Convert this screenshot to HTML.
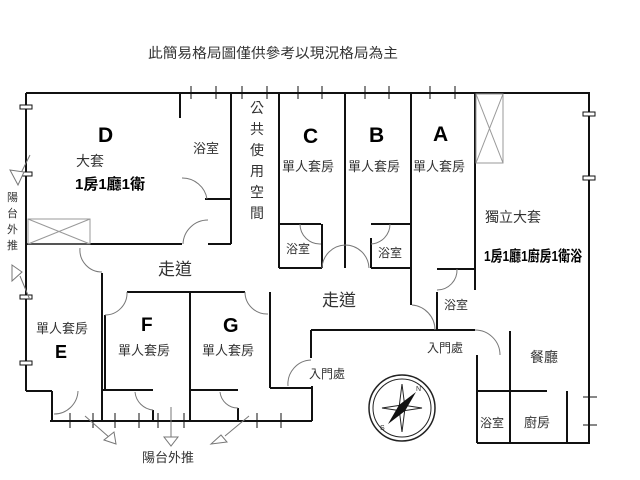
<!DOCTYPE html>
<html><head><meta charset="utf-8"><style>
html,body{margin:0;padding:0;background:#fff}
svg{display:block}
text{font-family:"Liberation Sans","Noto Sans CJK TC",sans-serif;fill:#333}
.b{font-weight:bold;fill:#000}
</style></head><body>
<svg width="640" height="480" viewBox="0 0 640 480" xmlns="http://www.w3.org/2000/svg">
<text x="148" y="58" font-size="14" textLength="250" lengthAdjust="spacingAndGlyphs">此簡易格局圖僅供參考以現況格局為主</text>
<g stroke="#111" stroke-width="2" fill="none">
<line x1="26" y1="93" x2="590" y2="93"/>
<line x1="26" y1="93" x2="26" y2="391"/>
<line x1="26" y1="391" x2="52" y2="391"/>
<line x1="52" y1="391" x2="52" y2="421"/>
<line x1="50" y1="421" x2="312" y2="421"/>
<line x1="180" y1="93" x2="180" y2="118"/>
<line x1="231" y1="93" x2="231" y2="244"/>
<line x1="205" y1="199" x2="231" y2="199"/>
<line x1="26" y1="244" x2="182" y2="244"/>
<line x1="208" y1="244" x2="231" y2="244"/>
<line x1="279" y1="93" x2="279" y2="268"/>
<line x1="279" y1="224" x2="321" y2="224"/>
<line x1="322" y1="224" x2="322" y2="268"/>
<line x1="279" y1="268" x2="322" y2="268"/>
<line x1="345" y1="93" x2="345" y2="268"/>
<line x1="371" y1="224" x2="411" y2="224"/>
<line x1="371" y1="238" x2="371" y2="268"/>
<line x1="371" y1="268" x2="411" y2="268"/>
<line x1="411" y1="93" x2="411" y2="305"/>
<line x1="437" y1="269" x2="475" y2="269"/>
<line x1="437" y1="292" x2="437" y2="330"/>
<line x1="311" y1="330" x2="475" y2="330"/>
<line x1="475" y1="93" x2="475" y2="290"/>
<line x1="477" y1="355" x2="477" y2="443"/>
<line x1="477" y1="443" x2="590" y2="443"/>
<line x1="589" y1="93" x2="589" y2="443"/>
<line x1="510" y1="331" x2="510" y2="391"/>
<line x1="477" y1="391" x2="547" y2="391"/>
<line x1="567" y1="391" x2="567" y2="443"/>
<line x1="510" y1="391" x2="510" y2="443"/>
<line x1="311" y1="330" x2="311" y2="358"/>
<line x1="312" y1="386" x2="312" y2="421"/>
<line x1="270" y1="388" x2="312" y2="388"/>
<line x1="102" y1="273" x2="102" y2="421"/>
<line x1="127" y1="292" x2="245" y2="292"/>
<line x1="105" y1="315" x2="105" y2="390"/>
<line x1="190" y1="292" x2="190" y2="421"/>
<line x1="270" y1="292" x2="270" y2="388"/>
<line x1="102" y1="390" x2="153" y2="390"/>
<line x1="153" y1="410" x2="153" y2="421"/>
<line x1="190" y1="390" x2="238" y2="390"/>
<line x1="238" y1="408" x2="238" y2="421"/>
</g>
<g stroke="#777" stroke-width="1" fill="none">
<path d="M182 178 A25 25 0 0 1 207 199"/>
<path d="M183 244 A25 25 0 0 1 208 220"/>
<path d="M80 248 A22 22 0 0 0 102 272"/>
<path d="M105 315 A22 22 0 0 0 127 292"/>
<path d="M245 292 A22 22 0 0 0 268 314"/>
<path d="M322 268 A24 24 0 0 1 345 245"/>
<path d="M345 245 A24 24 0 0 1 369 268"/>
<path d="M300 224 A20 20 0 0 0 321 244"/>
<path d="M371 244 A20 20 0 0 0 390 224"/>
<path d="M457 269 A20 20 0 0 1 437 290"/>
<path d="M412 305 A25 25 0 0 1 435 330"/>
<path d="M475 330 A25 25 0 0 1 500 355"/>
<path d="M288 386 A24 24 0 0 1 311 360"/>
<path d="M54 414 A24 24 0 0 0 78 391"/>
<path d="M135 392 A20 20 0 0 0 153 410"/>
<path d="M220 392 A18 18 0 0 0 238 408"/>
</g>
<g stroke="#999" stroke-width="1" fill="none">
<rect x="28" y="219" width="62" height="25"/>
<line x1="28" y1="219" x2="90" y2="244"/><line x1="90" y1="219" x2="28" y2="244"/>
<rect x="476" y="94" width="27" height="69"/>
<line x1="476" y1="94" x2="503" y2="163"/><line x1="503" y1="94" x2="476" y2="163"/>
</g>
<g stroke="#111" stroke-width="1">
<line x1="191" y1="86" x2="191" y2="99"/><line x1="216" y1="86" x2="216" y2="99"/>
<line x1="242" y1="86" x2="242" y2="99"/><line x1="267" y1="86" x2="267" y2="99"/>
<line x1="298" y1="86" x2="298" y2="99"/><line x1="322" y1="86" x2="322" y2="99"/>
<line x1="365" y1="86" x2="365" y2="99"/><line x1="389" y1="86" x2="389" y2="99"/>
<line x1="430" y1="86" x2="430" y2="99"/><line x1="455" y1="86" x2="455" y2="99"/>
<line x1="70" y1="413" x2="70" y2="428"/><line x1="93" y1="413" x2="93" y2="428"/>
<line x1="115" y1="413" x2="115" y2="428"/><line x1="139" y1="413" x2="139" y2="428"/>
<line x1="158" y1="413" x2="158" y2="428"/><line x1="184" y1="413" x2="184" y2="428"/>
<line x1="257" y1="413" x2="257" y2="428"/><line x1="281" y1="413" x2="281" y2="428"/>
<line x1="583" y1="397" x2="597" y2="397"/><line x1="583" y1="425" x2="597" y2="425"/>
</g>
<g stroke="#111" stroke-width="1" fill="#fff">
<rect x="20" y="105" width="12" height="4"/><rect x="20" y="172" width="12" height="4"/>
<rect x="20" y="295" width="12" height="4"/><rect x="20" y="361" width="12" height="4"/>
<rect x="583" y="112" width="12" height="4"/><rect x="583" y="176" width="12" height="4"/>
</g>
<g stroke="#777" stroke-width="1" fill="#fff">
<line x1="30" y1="155" x2="20" y2="175"/>
<polygon points="10,170 18,185 24,172"/>
<line x1="30" y1="300" x2="20" y2="276"/>
<polygon points="12,265 22,272 12,281"/>
<line x1="85" y1="416" x2="110" y2="438"/>
<polygon points="104,440 116,444 114,432"/>
<line x1="171" y1="407" x2="171" y2="437"/>
<polygon points="164,437 178,437 171,446"/>
<line x1="249" y1="416" x2="225" y2="436"/>
<polygon points="211,444 227,442 221,435"/>
</g>
<g transform="translate(402,408)">
<circle r="33" fill="none" stroke="#222" stroke-width="1.5"/>
<circle r="29" fill="none" stroke="#222" stroke-width="1"/>
<polygon points="-20,0 0,-3 20,0 0,3" fill="#fff" stroke="#222"/>
<polygon points="0,-24 3,0 0,24 -3,0" fill="#fff" stroke="#222"/>
<polygon points="14,-16 3,3 -14,16 -3,-3" fill="#111"/>
<text x="14" y="-17" font-size="7">N</text>
<text x="-22" y="22" font-size="7">S</text>
</g>
<text class="b" x="98" y="142" font-size="21">D</text>
<text x="76" y="166" font-size="14">大套</text>
<text class="b" x="75" y="189" font-size="15">1房1廳1衛</text>
<text x="193" y="153" font-size="13">浴室</text>
<g font-size="14">
<text x="250" y="113">公</text><text x="250" y="134">共</text><text x="250" y="155">使</text>
<text x="250" y="176">用</text><text x="250" y="197">空</text><text x="250" y="218">間</text>
</g>
<text class="b" x="303" y="143" font-size="21">C</text>
<text class="b" x="369" y="142" font-size="21">B</text>
<text class="b" x="433" y="141" font-size="21">A</text>
<text x="282" y="171" font-size="13">單人套房</text>
<text x="348" y="171" font-size="13">單人套房</text>
<text x="413" y="171" font-size="13">單人套房</text>
<text x="286" y="253" font-size="12">浴室</text>
<text x="378" y="257" font-size="12">浴室</text>
<text x="485" y="222" font-size="14">獨立大套</text>
<text class="b" x="484" y="261" font-size="15" textLength="98" lengthAdjust="spacingAndGlyphs">1房1廳1廚房1衛浴</text>
<text x="158" y="275" font-size="17">走道</text>
<text x="322" y="306" font-size="17">走道</text>
<text x="444" y="309" font-size="12">浴室</text>
<text x="427" y="352" font-size="12">入門處</text>
<text x="309" y="378" font-size="12">入門處</text>
<text x="530" y="362" font-size="14">餐廳</text>
<text x="480" y="427" font-size="12">浴室</text>
<text x="524" y="427" font-size="13">廚房</text>
<text x="36" y="333" font-size="13">單人套房</text>
<text class="b" x="55" y="358" font-size="18">E</text>
<text class="b" x="141" y="331" font-size="19">F</text>
<text x="118" y="355" font-size="13">單人套房</text>
<text class="b" x="223" y="332" font-size="20">G</text>
<text x="202" y="355" font-size="13">單人套房</text>
<text x="142" y="462" font-size="13">陽台外推</text>
<g font-size="11">
<text x="7" y="201">陽</text><text x="7" y="217">台</text><text x="7" y="233">外</text><text x="7" y="249">推</text>
</g>
</svg>
</body></html>
